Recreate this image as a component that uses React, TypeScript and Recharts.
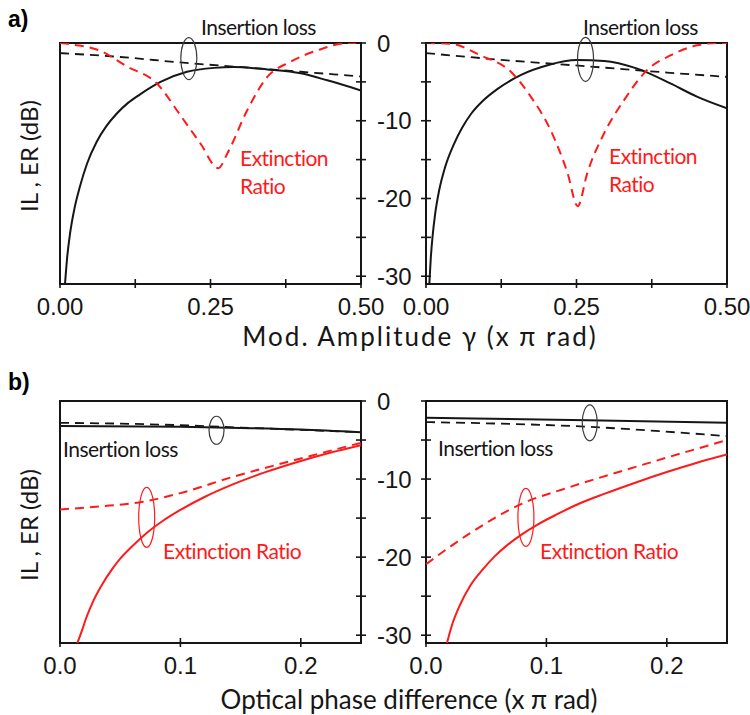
import React from 'react';
import { LineChart, Line, XAxis, YAxis, ReferenceDot, ReferenceArea } from 'recharts';

// ---------- tick values / labels ----------
const yTickValues = [0, -5, -10, -15, -20, -25, -30];
const yLabelValues = [0, -10, -20, -30];
const yLabelTexts = ['0', '-10', '-20', '-30'];
const topXTickValues = [0, 0.125, 0.25, 0.375, 0.5];
const topXLabelValues = [0, 0.25, 0.5];
const topXLabelTexts = ['0.00', '0.25', '0.50'];
const botXTickValues = [0, 0.1, 0.2];
const botXLabelValues = [0, 0.1, 0.2];
const botXLabelTexts = ['0.0', '0.1', '0.2'];

// ---------- panel a) left ----------
const aL_ilSolidX = [0.0083, 0.012, 0.0167, 0.024, 0.033, 0.045, 0.061, 0.077, 0.094, 0.113, 0.133, 0.167, 0.211, 0.256, 0.289, 0.344, 0.4, 0.444, 0.5];
const aL_ilSolidY = [-31, -27.5, -24.5, -21.3, -18.5, -15.5, -12.7, -10.7, -9.1, -7.7, -6.6, -5.0, -3.7, -3.2, -3.1, -3.4, -3.9, -4.8, -6.1];
const aL_ilDashX = [0, 0.1, 0.2, 0.3, 0.4, 0.5];
const aL_ilDashY = [-1.3, -1.8, -2.5, -3.1, -3.7, -4.3];
const aL_erDashX = [0, 0.02, 0.067, 0.111, 0.161, 0.2, 0.233, 0.263, 0.278, 0.311, 0.344, 0.383, 0.428, 0.478, 0.5];
const aL_erDashY = [0, -0.2, -1.0, -3.0, -5.2, -9.3, -12.9, -16.1, -14.2, -8.65, -4.4, -2.4, -0.94, 0, 0];

// ---------- panel a) right ----------
const aR_ilSolidX = [0.0055, 0.008, 0.011, 0.015, 0.022, 0.032, 0.047, 0.06, 0.075, 0.095, 0.119, 0.158, 0.202, 0.251, 0.296, 0.351, 0.406, 0.45, 0.5];
const aR_ilSolidY = [-31, -27.6, -24.8, -22.1, -18.9, -15.9, -12.9, -10.9, -9.1, -7.4, -5.9, -4.1, -2.86, -2.2, -2.3, -3.3, -5.2, -6.9, -8.4];
const aR_ilDashX = [0, 0.13, 0.268, 0.4, 0.5];
const aR_ilDashY = [-1.3, -2.2, -3.0, -3.8, -4.36];
const aR_erDashX = [0, 0.041, 0.091, 0.141, 0.174, 0.207, 0.235, 0.252, 0.268, 0.296, 0.329, 0.367, 0.406, 0.45, 0.484, 0.5];
const aR_erDashY = [0, -0.1, -1.6, -3.7, -6.9, -11.2, -16.7, -21.0, -16.7, -11.6, -7.35, -3.5, -1.6, -0.3, 0, 0];

// ---------- panel b) left ----------
const bL_ilSolidX = [0, 0.1, 0.15, 0.2, 0.25];
const bL_ilSolidY = [-3.2, -3.3, -3.45, -3.65, -4.0];
const bL_ilDashX = [0, 0.05, 0.1, 0.15, 0.2, 0.25];
const bL_ilDashY = [-2.8, -2.9, -3.1, -3.4, -3.7, -4.0];
const bL_erSolidX = [0.0144, 0.018, 0.022, 0.028, 0.035, 0.043, 0.05, 0.06, 0.072, 0.085, 0.1, 0.12, 0.144, 0.17, 0.2, 0.225, 0.25];
const bL_erSolidY = [-31, -29.5, -27.7, -25.5, -23.5, -21.6, -20.2, -18.6, -16.9, -15.4, -13.96, -12.3, -10.65, -9.15, -7.68, -6.6, -5.66];
const bL_erDashX = [0, 0.033, 0.069, 0.1, 0.144, 0.2, 0.25];
const bL_erDashY = [-13.9, -13.5, -12.9, -11.8, -9.7, -7.36, -5.36];

// ---------- panel b) right ----------
const bR_ilSolidX = [0, 0.134, 0.25];
const bR_ilSolidY = [-2.13, -2.47, -2.8];
const bR_ilDashX = [0, 0.134, 0.25];
const bR_ilDashY = [-2.7, -3.3, -4.5];
const bR_erSolidX = [0.0174, 0.022, 0.028, 0.037, 0.047, 0.057, 0.068, 0.079, 0.093, 0.109, 0.128, 0.148, 0.175, 0.2, 0.225, 0.25];
const bR_erSolidY = [-31, -28.5, -26.2, -23.6, -21.6, -19.9, -18.4, -17.15, -15.8, -14.5, -13.1, -11.9, -10.4, -9.1, -7.9, -6.85];
const bR_erDashX = [0, 0.037, 0.079, 0.12, 0.175, 0.25];
const bR_erDashY = [-20.9, -16.9, -13.2, -11.0, -8.4, -5.0];

const zip = (xs: number[], ys: number[]) => xs.map((x, i) => ({ x, y: ys[i] }));

const INK = '#161616';
const RED = '#ff1a1a';
const TICK_FONT = '"Liberation Sans", Arial, sans-serif';
const TEXT_FONT = 'Lato, "Open Sans", sans-serif';

const makeXTick = (values: number[], texts: string[]) => (props: any) => {
  const { x, y, payload } = props;
  const idx = values.findIndex((v) => Math.abs(v - payload.value) < 1e-9);
  return (
    <g>
      <line x1={x} x2={x} y1={y - 5} y2={y + 4} stroke={INK} strokeWidth={1.6} />
      {idx >= 0 && (
        <text x={x} y={y + 31} textAnchor="middle" fontFamily={TICK_FONT} fontSize={24} fill={INK}>
          {texts[idx]}
        </text>
      )}
    </g>
  );
};

const makeYTick = (withLabels: boolean) => (props: any) => {
  const { x, y, payload } = props;
  const idx = yLabelValues.findIndex((v) => v === payload.value);
  return (
    <g>
      <line x1={x - 5} x2={x + 5} y1={y} y2={y} stroke={INK} strokeWidth={1.6} />
      {withLabels && idx >= 0 && (
        <text x={x - 49} y={y} dy={8.5} textAnchor="start" fontFamily={TICK_FONT} fontSize={24} fill={INK}>
          {yLabelTexts[idx]}
        </text>
      )}
    </g>
  );
};

type Ell = { x: number; y: number; rx: number; ry: number; color: string };

type PanelProps = {
  left: number;
  top: number;
  side: 'left' | 'right';
  xMax: number;
  xTicks: number[];
  xLabelValues: number[];
  xLabelTexts: string[];
  plotH: number;
  ilSolid: { x: number; y: number }[];
  ilDash: { x: number; y: number }[];
  erSolid?: { x: number; y: number }[];
  erDash: { x: number; y: number }[];
  ellipses: Ell[];
};

const Panel = (p: PanelProps) => {
  const plotW = 301;
  const isLeft = p.side === 'left';
  const margin = isLeft
    ? { top: 20, right: 30, bottom: 5, left: 30 }
    : { top: 20, right: 30, bottom: 5, left: 5 };
  const yW = isLeft ? 10 : 60;
  const width = margin.left + margin.right + plotW + yW;
  const height = margin.top + margin.bottom + p.plotH + 45;
  const divLeft = isLeft ? p.left - margin.left : p.left - margin.left - yW;
  const divTop = p.top - margin.top;
  return (
    <div style={{ position: 'absolute', left: divLeft, top: divTop, width, height }}>
      <LineChart width={width} height={height} margin={margin}>
        <XAxis
          type="number"
          dataKey="x"
          domain={[0, p.xMax]}
          ticks={p.xTicks}
          interval={0}
          height={45}
          axisLine={false}
          tickLine={false}
          tickSize={0}
          tickMargin={0}
          tick={makeXTick(p.xLabelValues, p.xLabelTexts)}
          allowDataOverflow
        />
        <YAxis
          type="number"
          dataKey="y"
          orientation={isLeft ? 'right' : 'left'}
          domain={[-31, 0]}
          ticks={yTickValues}
          interval={0}
          width={yW}
          axisLine={false}
          tickLine={false}
          tickSize={0}
          tickMargin={0}
          tick={makeYTick(!isLeft)}
          allowDataOverflow
        />
        <ReferenceArea x1={0} x2={p.xMax} y1={-31} y2={0} fill="none" stroke={INK} strokeWidth={2} ifOverflow="visible" />
        <Line data={p.ilDash} dataKey="y" type="monotone" stroke={INK} strokeWidth={1.8} strokeDasharray="9 6" dot={false} activeDot={false} isAnimationActive={false} />
        <Line data={p.ilSolid} dataKey="y" type="monotone" stroke={INK} strokeWidth={2} dot={false} activeDot={false} isAnimationActive={false} />
        <Line data={p.erDash} dataKey="y" type="monotone" stroke={RED} strokeWidth={2} strokeDasharray="9 6" dot={false} activeDot={false} isAnimationActive={false} />
        {p.erSolid && (
          <Line data={p.erSolid} dataKey="y" type="monotone" stroke={RED} strokeWidth={2} dot={false} activeDot={false} isAnimationActive={false} />
        )}
        {p.ellipses.map((e, i) => (
          <ReferenceDot
            key={i}
            x={e.x}
            y={e.y}
            ifOverflow="visible"
            shape={(sp: any) => (
              <ellipse cx={sp.cx} cy={sp.cy} rx={e.rx} ry={e.ry} fill="none" stroke={e.color} strokeWidth={1.2} />
            )}
          />
        ))}
      </LineChart>
    </div>
  );
};

export default function App() {
  return (
    <div style={{ position: 'absolute', left: 0, top: 0, width: 750, height: 715, background: '#fff', overflow: 'hidden' }}>
      <Panel
        left={60}
        top={43}
        side="left"
        xMax={0.5}
        xTicks={topXTickValues}
        xLabelValues={topXLabelValues}
        xLabelTexts={topXLabelTexts}
        plotH={241}
        ilSolid={zip(aL_ilSolidX, aL_ilSolidY)}
        ilDash={zip(aL_ilDashX, aL_ilDashY)}
        erDash={zip(aL_erDashX, aL_erDashY)}
        ellipses={[{ x: 0.214, y: -2.0, rx: 8, ry: 21, color: '#3a3a3a' }]}
      />
      <Panel
        left={426}
        top={43}
        side="right"
        xMax={0.5}
        xTicks={topXTickValues}
        xLabelValues={topXLabelValues}
        xLabelTexts={topXLabelTexts}
        plotH={241}
        ilSolid={zip(aR_ilSolidX, aR_ilSolidY)}
        ilDash={zip(aR_ilDashX, aR_ilDashY)}
        erDash={zip(aR_erDashX, aR_erDashY)}
        ellipses={[{ x: 0.265, y: -2.1, rx: 8, ry: 22, color: '#3a3a3a' }]}
      />
      <Panel
        left={60}
        top={401}
        side="left"
        xMax={0.25}
        xTicks={botXTickValues}
        xLabelValues={botXLabelValues}
        xLabelTexts={botXLabelTexts}
        plotH={242}
        ilSolid={zip(bL_ilSolidX, bL_ilSolidY)}
        ilDash={zip(bL_ilDashX, bL_ilDashY)}
        erSolid={zip(bL_erSolidX, bL_erSolidY)}
        erDash={zip(bL_erDashX, bL_erDashY)}
        ellipses={[
          { x: 0.13, y: -3.75, rx: 7.5, ry: 14, color: '#3a3a3a' },
          { x: 0.072, y: -14.9, rx: 8, ry: 30, color: RED },
        ]}
      />
      <Panel
        left={426}
        top={401}
        side="right"
        xMax={0.25}
        xTicks={botXTickValues}
        xLabelValues={botXLabelValues}
        xLabelTexts={botXLabelTexts}
        plotH={242}
        ilSolid={zip(bR_ilSolidX, bR_ilSolidY)}
        ilDash={zip(bR_ilDashX, bR_ilDashY)}
        erSolid={zip(bR_erSolidX, bR_erSolidY)}
        erDash={zip(bR_erDashX, bR_erDashY)}
        ellipses={[
          { x: 0.136, y: -2.8, rx: 7.5, ry: 18, color: '#3a3a3a' },
          { x: 0.083, y: -14.9, rx: 8, ry: 29, color: RED },
        ]}
      />
      <svg width={750} height={715} style={{ position: 'absolute', left: 0, top: 0, pointerEvents: 'none' }}>
        <text x={8} y={27} fontFamily={TICK_FONT} fontWeight="bold" fontSize={23} fill="#000">a)</text>
        <text x={8} y={390} fontFamily={TICK_FONT} fontWeight="bold" fontSize={23} fill="#000">b)</text>
        <text x={201} y={35} fontFamily={TEXT_FONT} fontSize={21} letterSpacing={-0.5} fill={INK}>Insertion loss</text>
        <text x={583} y={35} fontFamily={TEXT_FONT} fontSize={21} letterSpacing={-0.5} fill={INK}>Insertion loss</text>
        <text x={240} y={166} fontFamily={TEXT_FONT} fontSize={21} letterSpacing={-0.5} fill={RED}>Extinction</text>
        <text x={240} y={194} fontFamily={TEXT_FONT} fontSize={21} letterSpacing={-0.5} fill={RED}>Ratio</text>
        <text x={609} y={164} fontFamily={TEXT_FONT} fontSize={21} letterSpacing={-0.5} fill={RED}>Extinction</text>
        <text x={609} y={192} fontFamily={TEXT_FONT} fontSize={21} letterSpacing={-0.5} fill={RED}>Ratio</text>
        <text x={63} y={457} fontFamily={TEXT_FONT} fontSize={21} letterSpacing={-0.5} fill={INK}>Insertion loss</text>
        <text x={438} y={456} fontFamily={TEXT_FONT} fontSize={21} letterSpacing={-0.5} fill={INK}>Insertion loss</text>
        <text x={163} y={559} fontFamily={TEXT_FONT} fontSize={21} letterSpacing={-0.5} fill={RED}>Extinction Ratio</text>
        <text x={540} y={559} fontFamily={TEXT_FONT} fontSize={21} letterSpacing={-0.5} fill={RED}>Extinction Ratio</text>
        <text x={420} y={346} textAnchor="middle" fontFamily={TEXT_FONT} fontSize={26} letterSpacing={2} fill={INK}>Mod. Amplitude γ (x π rad)</text>
        <text x={409} y={709} textAnchor="middle" fontFamily={TEXT_FONT} fontSize={26} letterSpacing={0} fill={INK}>Optical phase difference (x π rad)</text>
        <text transform="translate(38,156) rotate(-90)" textAnchor="middle" fontFamily={TEXT_FONT} fontSize={24} fill={INK}>IL , ER (dB)</text>
        <text transform="translate(38,525) rotate(-90)" textAnchor="middle" fontFamily={TEXT_FONT} fontSize={24} fill={INK}>IL , ER (dB)</text>
      </svg>
    </div>
  );
}
